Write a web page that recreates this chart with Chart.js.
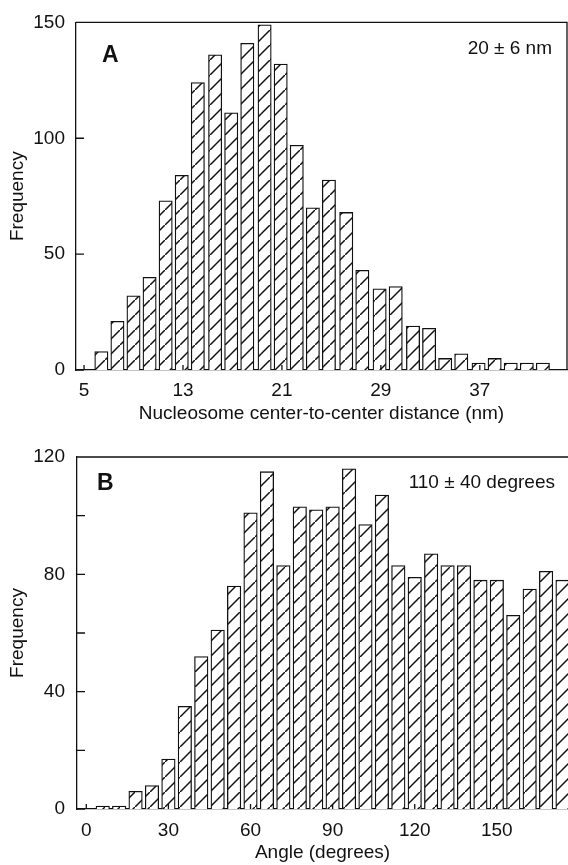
<!DOCTYPE html>
<html>
<head>
<meta charset="utf-8">
<script src="https://cdn.jsdelivr.net/npm/chart.js@4/dist/chart.umd.min.js"></script>
<style>
  body { margin: 0; background: #fff; }
  #wrapA { position: absolute; left: 0; top: 0; }
  #wrapB { position: absolute; left: 0; top: 432px; }
</style>
</head>
<body>
<div id="wrapA"><canvas id="chartA" width="568" height="432"></canvas></div>
<div id="wrapB"><canvas id="chartB" width="568" height="433"></canvas></div>
<script>
// panel A: nucleosome center-to-center distance (bin centers, nm)
const distanceBins = [6.4, 7.7, 9.0, 10.3, 11.6, 12.9, 14.2, 15.6, 16.9, 18.2, 19.6, 20.9, 22.2, 23.5,
  24.8, 26.2, 27.5, 28.9, 30.2, 31.6, 32.9, 34.2, 35.5, 36.9, 38.2, 39.5, 40.8, 42.1];
const distanceCounts = [8, 21, 32, 40, 73, 84, 124, 136, 111, 141, 149, 132, 97, 70,
  82, 68, 43, 35, 36, 19, 18, 5, 7, 3, 5, 3, 3, 3];
const distanceTicks = [5, 13, 21, 29, 37];

// panel B: angle (bin centers, degrees)
const angleBins = [6, 12, 18, 24, 30, 36, 42, 48, 54, 60, 66, 72, 78, 84, 90, 96, 102, 108,
  114, 120, 126, 132, 138, 144, 150, 156, 162, 168, 174];
const angleCounts = [1, 1, 6, 8, 17, 35, 52, 61, 76, 101, 115, 83, 103, 102, 103, 116, 97, 107,
  83, 79, 87, 83, 83, 78, 78, 66, 75, 81, 78];
const angleTicks = [0, 30, 60, 90, 120, 150];

const FONT = "'Liberation Sans', Arial, Helvetica, sans-serif";
const INK = "#111";
Chart.defaults.font.family = FONT;
Chart.defaults.font.size = 19;
Chart.defaults.color = INK;

function hatchPattern() {
  const c = document.createElement("canvas");
  c.width = 15;
  c.height = 15;
  const g = c.getContext("2d");
  g.fillStyle = "#fff";
  g.fillRect(0, 0, 15, 15);
  g.strokeStyle = "#111";
  g.lineWidth = 1.5;
  g.beginPath();
  g.moveTo(-2, 17);
  g.lineTo(17, -2);
  g.stroke();
  return g.createPattern(c, "repeat");
}

// frame line on top (and right), inward tick marks, panel labels
const framePlugin = {
  id: "framePlugin",
  afterDraw(chart, args, opts) {
    const { ctx, chartArea } = chart;
    const xs = chart.scales.x;
    const ys = chart.scales.y;
    ctx.save();
    ctx.strokeStyle = INK;
    ctx.lineWidth = 1.3;
    ctx.beginPath();
    ctx.moveTo(chartArea.left, chartArea.top);
    ctx.lineTo(chartArea.right, chartArea.top);
    if (opts.rightEdge) ctx.lineTo(chartArea.right, chartArea.bottom);
    ys.ticks.forEach((t) => {
      const py = ys.getPixelForValue(t.value);
      ctx.moveTo(chartArea.left, py);
      ctx.lineTo(chartArea.left + 8, py);
    });
    xs.ticks.forEach((t) => {
      const px = xs.getPixelForValue(t.value);
      ctx.moveTo(px, chartArea.bottom);
      ctx.lineTo(px, chartArea.bottom - 5);
    });
    ctx.stroke();

    ctx.fillStyle = INK;
    ctx.textBaseline = "alphabetic";
    ctx.font = "bold 23px " + FONT;
    ctx.textAlign = "left";
    ctx.fillText(opts.letter, chartArea.left + opts.letterDx, chartArea.top + opts.letterDy);
    ctx.font = "19px " + FONT;
    ctx.textAlign = "right";
    ctx.fillText(opts.stat, opts.statX, chartArea.top + opts.statDy);
    ctx.restore();
  },
};

function makeChart(canvas, bins, counts, ticks, cfg) {
  return new Chart(canvas, {
    type: "bar",
    data: {
      datasets: [
        {
          data: bins.map((b, i) => ({ x: b, y: counts[i] })),
          backgroundColor: hatchPattern(),
          borderColor: INK,
          borderWidth: 1.3,
          barThickness: cfg.barWidth,
        },
      ],
    },
    options: {
      responsive: false,
      animation: false,
      layout: { padding: { top: cfg.top, right: cfg.right, left: 0, bottom: 0 } },
      plugins: {
        legend: { display: false },
        tooltip: { enabled: false },
        framePlugin: cfg.frame,
      },
      scales: {
        x: {
          type: "linear",
          offset: false,
          min: cfg.xMin,
          max: cfg.xMax,
          afterBuildTicks: (scale) => {
            scale.ticks = ticks.map((v) => ({ value: v }));
          },
          afterFit: (scale) => {
            scale.height = cfg.xHeight;
          },
          grid: { display: false, drawTicks: false, offset: false },
          border: { display: true, color: INK, width: 1.3 },
          ticks: { padding: cfg.xPad, maxRotation: 0, autoSkip: false },
          title: {
            display: true,
            text: cfg.xTitle,
            font: { size: 19 },
            padding: { top: 0, bottom: cfg.xTitlePad },
          },
        },
        y: {
          min: 0,
          max: cfg.yMax,
          afterFit: (scale) => {
            scale.width = cfg.yWidth;
          },
          grid: { display: false, drawTicks: false },
          border: { display: true, color: INK, width: 1.3 },
          ticks: {
            stepSize: cfg.yStep,
            padding: cfg.yPad,
            callback: (v) => (v % cfg.yLabelEvery === 0 ? v : ""),
          },
          title: {
            display: true,
            text: "Frequency",
            font: { size: 19 },
            padding: { top: 6, bottom: 0 },
          },
        },
      },
    },
    plugins: [framePlugin],
  });
}

makeChart(document.getElementById("chartA"), distanceBins, distanceCounts, distanceTicks, {
  barWidth: 13.3,
  top: 17,
  right: 1,
  xMin: 4.35,
  xMax: 44.05,
  xHeight: 62,
  xPad: 9,
  xTitle: "Nucleosome center-to-center distance (nm)",
  xTitlePad: 7,
  yMax: 150,
  yStep: 50,
  yLabelEvery: 50,
  yWidth: 76,
  yPad: 11,
  frame: { rightEdge: true, letter: "A", letterDx: 26, letterDy: 40, stat: "20 \u00b1 6 nm", statX: 552, statDy: 32 },
});

makeChart(document.getElementById("chartB"), angleBins, angleCounts, angleTicks, {
  barWidth: 13.5,
  top: 25,
  right: 0,
  xMin: -3.4,
  xMax: 176,
  xHeight: 56,
  xPad: 10,
  xTitle: "Angle (degrees)",
  xTitlePad: 1,
  yMax: 120,
  yStep: 20,
  yLabelEvery: 40,
  yWidth: 77,
  yPad: 12,
  frame: { rightEdge: false, letter: "B", letterDx: 20, letterDy: 33, stat: "110 \u00b1 40 degrees", statX: 555, statDy: 31 },
});
</script>
</body>
</html>
